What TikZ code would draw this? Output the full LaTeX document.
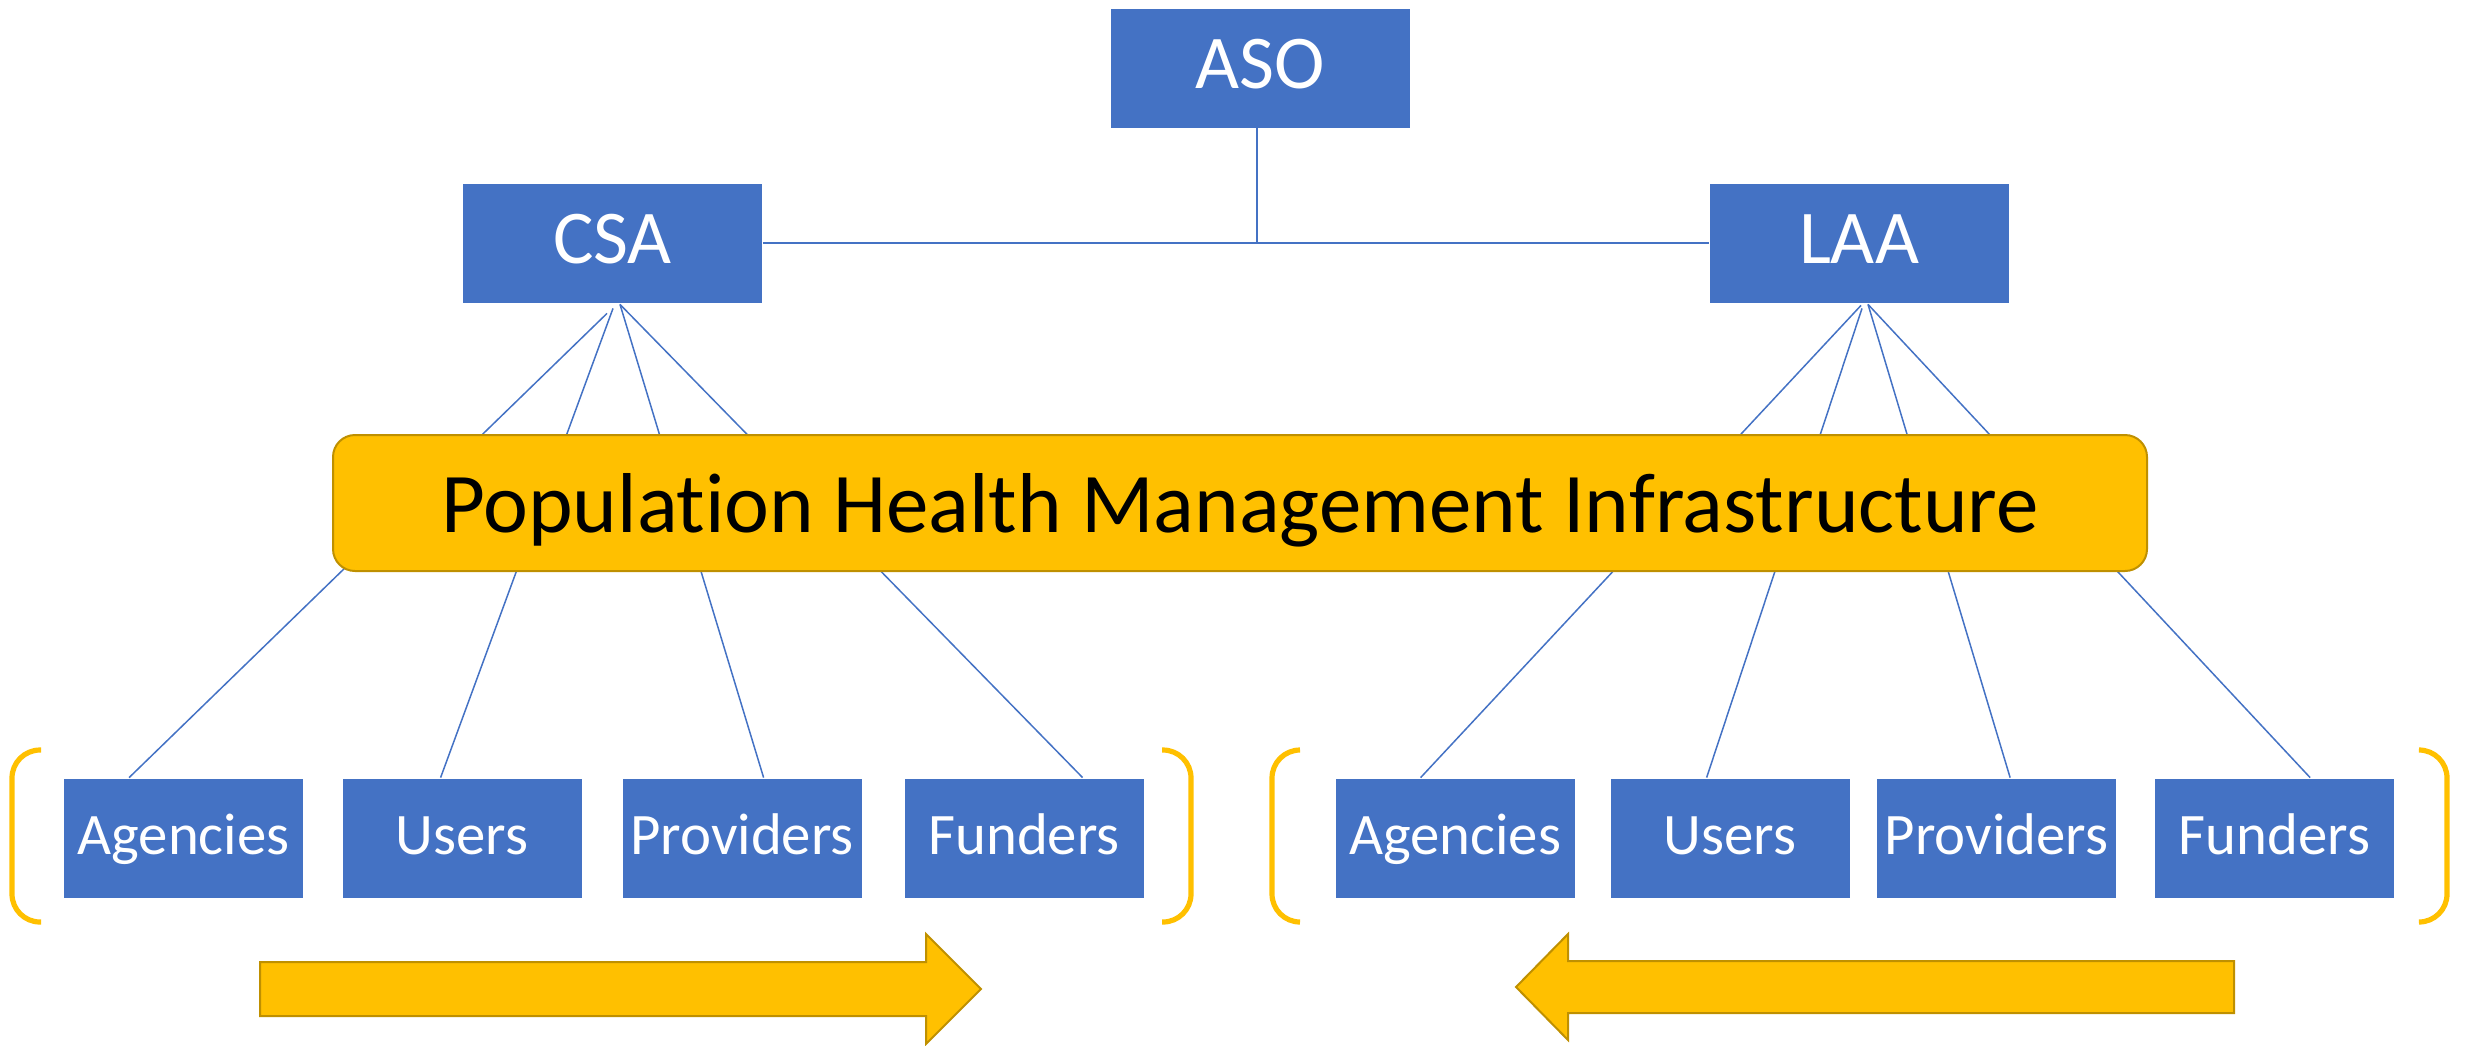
\documentclass[tikz,border=0pt]{standalone}
\usepackage{fontspec}
\setmainfont{Carlito}[Ligatures={NoCommon,NoRare,NoContextual}]
\usetikzlibrary{calc}
\definecolor{blueA}{HTML}{4472C4}
\definecolor{goldA}{HTML}{FFC000}
\definecolor{goldB}{HTML}{BF9000}
\tikzset{
  topbox/.style={fill=blueA, draw=white, line width=0.4pt, inner sep=0pt, text=white,
    minimum width=150pt, minimum height=60pt, text height=25.5pt, text depth=5pt,
    font=\fontsize{38pt}{42pt}\selectfont},
  leafbox/.style={fill=blueA, draw=white, line width=0.4pt, inner sep=0pt, text=white,
    minimum width=120pt, minimum height=60pt, text height=22pt, text depth=6pt,
    font=\fontsize{29.4pt}{33pt}\selectfont},
  phmbox/.style={fill=goldA, draw=goldB, line width=1pt, rounded corners=11pt, inner sep=0pt,
    minimum width=907pt, minimum height=68pt, text height=31pt, text depth=2pt,
    text=black, font=\fontsize{42.5pt}{46pt}\selectfont},
  conn/.style={draw=blueA, line width=0.75pt},
  brk/.style={draw=goldA, line width=2.6pt, rounded corners=14pt},
  bigarrow/.style={fill=goldA, draw=goldB, line width=1pt, line join=miter},
}
\begin{document}
\begin{tikzpicture}[x=0.5pt, y=-0.5pt]
\useasboundingbox (0,0) rectangle (2471,1045);
% top level
\node[topbox] (ASO) at (1260,68) {ASO};
\node[topbox] (CSA) at (612.5,243) {CSA};
\node[topbox] (LAA) at (1859,243) {LAA};
% leaves, left group
\node[leafbox] (a1) at (183.5,838) {Agencies};
\node[leafbox] (u1) at (462,838) {Users};
\node[leafbox] (p1) at (742,838) {Providers};
\node[leafbox] (f1) at (1024,838) {Funders};
% leaves, right group
\node[leafbox] (a2) at (1455,838) {Agencies};
\node[leafbox] (u2) at (1730,838) {Users};
\node[leafbox] (p2) at (1996.5,838) {Providers};
\node[leafbox] (f2) at (2274.5,838) {Funders};
% connectors
\draw[conn] (CSA.east) -- (LAA.west);
\draw[conn] ([xshift=-1.5pt]ASO.south) -- ([xshift=-1.5pt]ASO.south |- CSA.east);
\draw[conn] ($(CSA.south)+(-5.5,10)$) -- ($(a1.north west)+(66,0)$);
\draw[conn] ($(CSA.south)+(0.5,5)$) -- ($(u1.north west)+(99,0)$);
\draw[conn] ($(CSA.south)+(7.5,1)$) -- ($(p1.north west)+(142,0)$);
\draw[conn] ($(CSA.south)+(7.5,1)$) -- ($(f1.north west)+(179,0)$);
\draw[conn] ($(LAA.south)+(2,2)$) -- ($(a2.north west)+(86,0)$);
\draw[conn] ($(LAA.south)+(3,5)$) -- ($(u2.north west)+(97,0)$);
\draw[conn] ($(LAA.south)+(9,1)$) -- ($(p2.north west)+(134,0)$);
\draw[conn] ($(LAA.south)+(9,1)$) -- ($(f2.north west)+(156,0)$);
% infrastructure bar over the connectors
\node[phmbox] (PHM) at (1240,503) {Population Health Management Infrastructure};
% brackets
\draw[brk] (41,750) -- (12,750) -- (12,922) -- (41,922);
\draw[brk] (1162,750) -- (1191,750) -- (1191,922) -- (1162,922);
\draw[brk] (1300,750) -- (1272,750) -- (1272,922) -- (1300,922);
\draw[brk] (2421,750) -- (2447,750) -- (2447,922) -- (2421,922);
% block arrows
\draw[bigarrow] (260,962) -- (926,962) -- (926,934) -- (981,989) -- (926,1044) -- (926,1016) -- (260,1016) -- cycle;
\draw[bigarrow] (2234,961) -- (1568,961) -- (1568,934) -- (1516,987) -- (1568,1040) -- (1568,1013) -- (2234,1013) -- cycle;
\end{tikzpicture}
\end{document}
